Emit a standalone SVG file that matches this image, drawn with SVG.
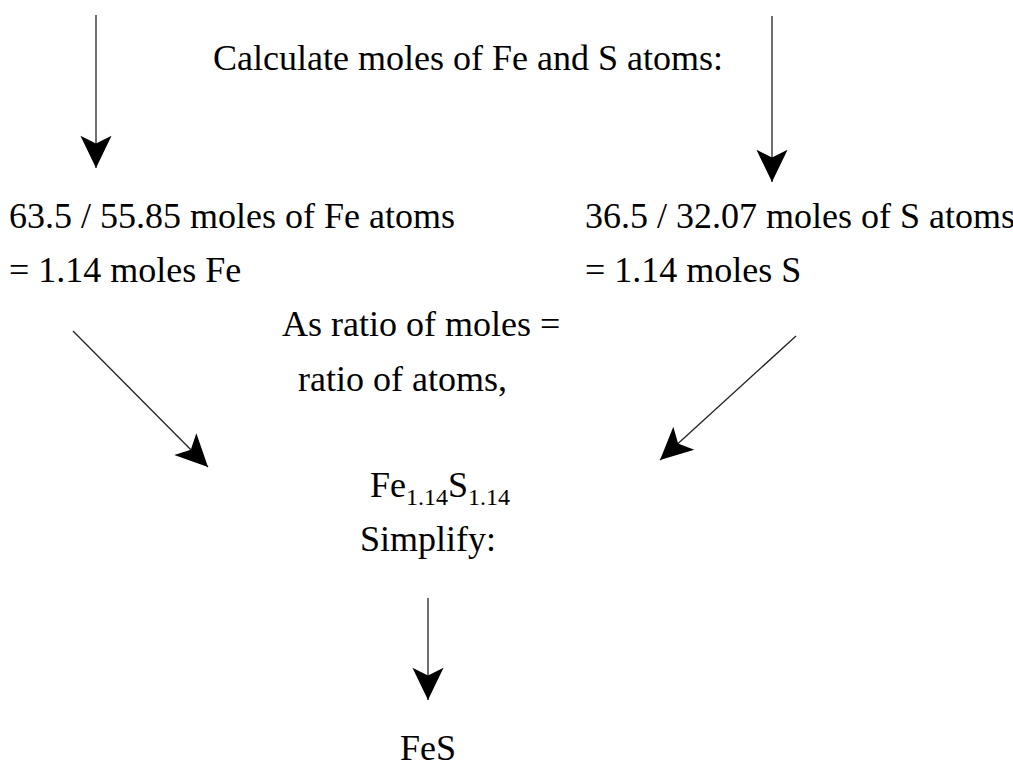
<svg xmlns="http://www.w3.org/2000/svg" width="1013" height="767" viewBox="0 0 1013 767" font-family="'Liberation Serif', Tinos, 'Times New Roman', 'DejaVu Serif', serif">
<style>
text{font-family:'Liberation Serif',Tinos,'Times New Roman','DejaVu Serif',serif;font-size:36px;fill:#000}
.sub{font-size:24px}
.c line{stroke:#222;stroke-width:1.3;fill:none}
</style>
<defs>
<marker id="ah" markerUnits="userSpaceOnUse" markerWidth="40" markerHeight="40" viewBox="-32 -16 36 32" refX="0" refY="0" orient="auto">
<path d="M0,0 L-29,-14 L-22,0 L-29,14 Z" fill="#000"/>
</marker>
</defs>
<rect width="1013" height="767" fill="#fff"/>
<g class="c" id="connectors">
<line x1="96" y1="15" x2="96" y2="168" marker-end="url(#ah)"/>
<line x1="772" y1="16" x2="772" y2="182" marker-end="url(#ah)"/>
<line x1="73" y1="331" x2="208" y2="467" marker-end="url(#ah)"/>
<line x1="796" y1="336" x2="660" y2="460" marker-end="url(#ah)"/>
<line x1="428" y1="598" x2="428" y2="700" marker-end="url(#ah)"/>
</g>
<g id="calc"><text x="213" y="70">Calculate moles of Fe and S atoms:</text></g>
<g id="fe"><text x="9" y="228">63.5 / 55.85 moles of Fe atoms</text><text x="9" y="282">= 1.14 moles Fe</text></g>
<g id="s"><text x="585" y="228">36.5 / 32.07 moles of S atoms</text><text x="585" y="282">= 1.14 moles S</text></g>
<g id="ratio"><text x="282" y="336">As ratio of moles =</text><text x="298" y="391">ratio of atoms,</text></g>
<g id="formula"><text x="370" y="497">Fe<tspan class="sub" dy="8">1.14</tspan><tspan dy="-8">S</tspan><tspan class="sub" dy="8">1.14</tspan></text></g>
<g id="simplify"><text x="428" y="551" text-anchor="middle">Simplify:</text></g>
<g id="fes"><text x="428" y="760" text-anchor="middle">FeS</text></g>
</svg>
